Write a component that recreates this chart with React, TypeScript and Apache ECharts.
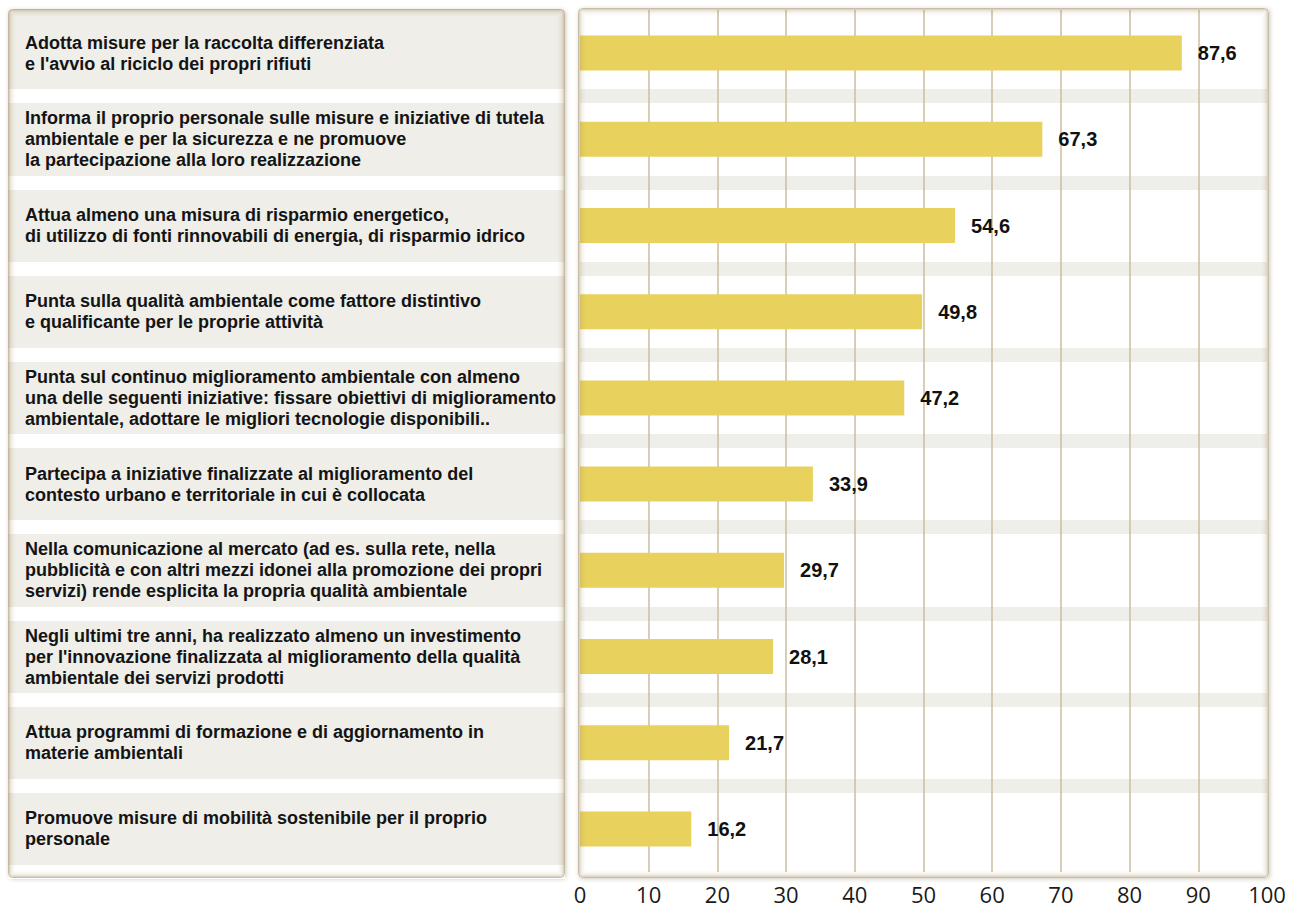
import React, { useEffect, useRef } from "react";
import * as echarts from "echarts";

const categories: string[] = [
  "Adotta misure per la raccolta differenziata\ne l'avvio al riciclo dei propri rifiuti",
  "Informa il proprio personale sulle misure e iniziative di tutela\nambientale e per la sicurezza e ne promuove\nla partecipazione alla loro realizzazione",
  "Attua almeno una misura di risparmio energetico,\ndi utilizzo di fonti rinnovabili di energia, di risparmio idrico",
  "Punta sulla qualità ambientale come fattore distintivo\ne qualificante per le proprie attività",
  "Punta sul continuo miglioramento ambientale con almeno\nuna delle seguenti iniziative: fissare obiettivi di miglioramento\nambientale, adottare le migliori tecnologie disponibili..",
  "Partecipa a iniziative finalizzate al miglioramento del\ncontesto urbano e territoriale in cui è collocata",
  "Nella comunicazione al mercato (ad es. sulla rete, nella\npubblicità e con altri mezzi idonei alla promozione dei propri\nservizi) rende esplicita la propria qualità ambientale",
  "Negli ultimi tre anni, ha realizzato almeno un investimento\nper l'innovazione finalizzata al miglioramento della qualità\nambientale dei servizi prodotti",
  "Attua programmi di formazione e di aggiornamento in\nmaterie ambientali",
  "Promuove misure di mobilità sostenibile per il proprio\npersonale",
];

const values: number[] = [87.6, 67.3, 54.6, 49.8, 47.2, 33.9, 29.7, 28.1, 21.7, 16.2];

const axisMin = 0;
const axisMax = 100;
const axisStep = 10;

const shadowAlphas = [0.6, 0.4, 0.26, 0.17, 0.11, 0.07, 0.04, 0.02];

function panel(x: number, y: number, w: number, h: number, fill: string) {
  const els: any[] = [
    {
      type: "rect",
      silent: true,
      z: -10,
      shape: { x, y, width: w, height: h, r: 4 },
      style: {
        fill,
        shadowBlur: 4,
        shadowOffsetX: 1,
        shadowOffsetY: 1,
        shadowColor: "rgba(120,100,60,0.35)",
      },
    },
  ];
  shadowAlphas.forEach((a, i) => {
    els.push({
      type: "rect",
      silent: true,
      z: 50,
      shape: {
        x: x + i + 0.5,
        y: y + i + 0.5,
        width: w - 2 * i - 1,
        height: h - 2 * i - 1,
        r: Math.max(0, 4 - i),
      },
      style: { fill: "none", stroke: `rgba(165,145,105,${a})`, lineWidth: 1 },
    });
  });
  return els;
}

export default function App() {
  const ref = useRef<HTMLDivElement>(null);

  useEffect(() => {
    if (!ref.current) return;
    const chart = echarts.init(ref.current, null, { renderer: "svg" });
    const labelFont = "'Liberation Sans', Arial, sans-serif";
    chart.setOption({
      animation: false,
      backgroundColor: "#ffffff",
      graphic: [
        ...panel(8, 9, 557, 869, "#efeee9"),
        ...panel(578, 8, 691, 870, "#ffffff"),
      ],
      grid: [
        { left: 8, top: 10, width: 557, height: 862, containLabel: false },
        { left: 580, top: 10, width: 687, height: 862, containLabel: false },
      ],
      xAxis: [
        {
          gridIndex: 0,
          type: "value",
          min: 0,
          max: 1,
          show: false,
        },
        {
          gridIndex: 1,
          type: "value",
          min: axisMin,
          max: axisMax,
          interval: axisStep,
          axisLine: { show: false },
          axisTick: { show: false },
          axisLabel: {
            fontFamily: "'Open Sans', sans-serif",
            fontSize: 22,
            color: "#1a1a1a",
            margin: 11,
          },
          splitLine: {
            show: true,
            showMinLine: false,
            showMaxLine: false,
            lineStyle: { color: "#cbbd9f", width: 1.5 },
          },
        },
      ],
      yAxis: [
        {
          gridIndex: 0,
          type: "category",
          inverse: true,
          data: categories,
          axisLine: { show: false },
          axisTick: { show: false },
          axisLabel: {
            inside: true,
            margin: 17,
            align: "left",
            fontFamily: labelFont,
            fontWeight: "bold",
            fontSize: 18,
            lineHeight: 21,
            color: "#141414",
          },
          splitLine: {
            show: true,
            showMinLine: false,
            showMaxLine: true,
            lineStyle: { color: "#ffffff", width: 14 },
          },
        },
        {
          gridIndex: 1,
          type: "category",
          inverse: true,
          data: categories,
          axisLine: { show: false },
          axisTick: { show: false },
          axisLabel: { show: false },
          splitLine: {
            show: true,
            showMinLine: false,
            showMaxLine: false,
            lineStyle: { color: "#efefea", width: 14 },
          },
        },
      ],
      series: [
        {
          type: "bar",
          xAxisIndex: 0,
          yAxisIndex: 0,
          data: values.map(() => 0),
          silent: true,
          itemStyle: { opacity: 0 },
        },
        {
          type: "bar",
          xAxisIndex: 1,
          yAxisIndex: 1,
          data: values,
          barWidth: 35,
          itemStyle: { color: "#e8d15c" },
          label: {
            show: true,
            position: "right",
            distance: 16,
            fontFamily: labelFont,
            fontWeight: "bold",
            fontSize: 20,
            color: "#111111",
            formatter: (p: any) => p.value.toFixed(1).replace(".", ","),
          },
        },
      ],
    });
    return () => chart.dispose();
  }, []);

  return (
    <div
      ref={ref}
      style={{ position: "absolute", left: 0, top: 0, width: 1291, height: 912, background: "#fff" }}
    />
  );
}
